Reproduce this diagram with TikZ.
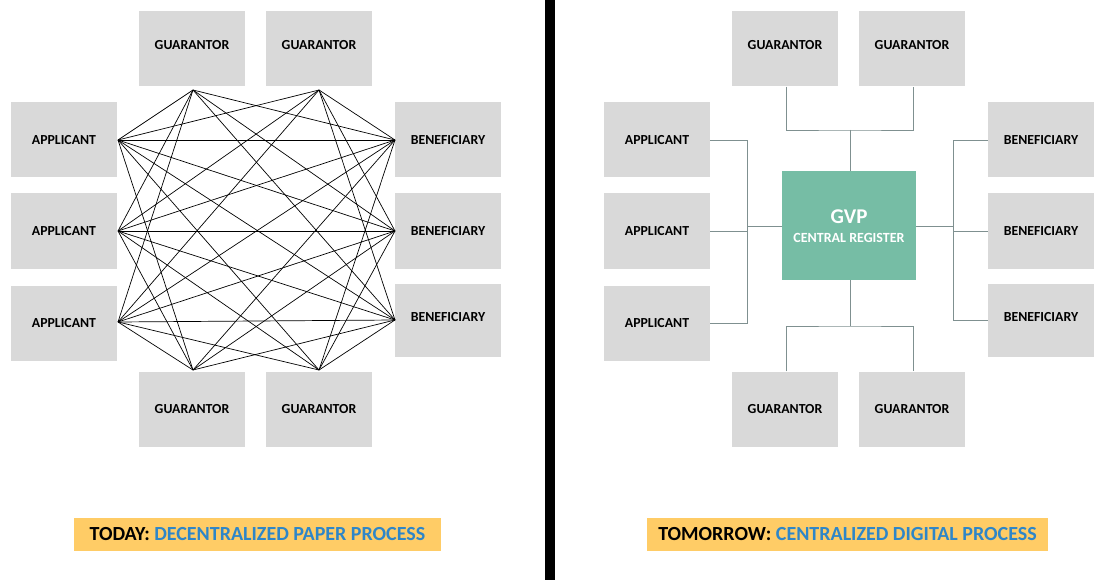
\documentclass[tikz,border=0pt]{standalone}
\usepackage{fontspec}
\setmainfont{Carlito}
\begin{document}
\begin{tikzpicture}[x=1pt,y=-1pt,
  box/.style={fill=boxgray,minimum width=106pt,minimum height=75pt,inner sep=0pt,font=\bfseries\fontsize{13.8}{15}\selectfont},
  mesh/.style={black,line width=0.7pt},
  conn/.style={linegray,line width=0.9pt},
  tag/.style={fill=tagyellow,minimum height=33pt,inner sep=0pt,font=\bfseries\fontsize{20}{22}\selectfont}]
\definecolor{boxgray}{HTML}{D9D9D9}
\definecolor{linegray}{HTML}{7F9090}
\definecolor{gvp}{HTML}{76BDA5}
\definecolor{tagyellow}{HTML}{FFCC66}
\definecolor{tagblue}{HTML}{2E86C8}
\useasboundingbox (0,0) rectangle (1111,580);
\fill[white] (0,0) rectangle (1111,580);
\fill[black] (545,0) rectangle (555,580);
% left
\node[box] (lg1) at (192,49) {\raisebox{8pt}{GUARANTOR}};
\node[box] (lg2) at (319,49) {\raisebox{8pt}{GUARANTOR}};
\node[box] (lg3) at (192,409) {GUARANTOR};
\node[box] (lg4) at (319,409) {GUARANTOR};
\node[box] (la1) at (64,140) {APPLICANT};
\node[box] (la2) at (64,231) {APPLICANT};
\node[box] (la3) at (64,323) {APPLICANT};
\node[box] (lb1) at (448,140) {BENEFICIARY};
\node[box] (lb2) at (448,231) {BENEFICIARY};
\node[box,minimum height=73pt] (lb3) at (448,320) {\raisebox{7pt}{BENEFICIARY}};
\coordinate (g1) at (193,90);
\coordinate (g2) at (319,90);
\coordinate (g3) at (193,370);
\coordinate (g4) at (319,370);
\coordinate (a1) at (118,140);
\coordinate (a2) at (118,231);
\coordinate (a3) at (118,322);
\coordinate (b1) at (395,140);
\coordinate (b2) at (395,231);
\coordinate (b3) at (395,320);
\foreach \p in {a1,a2,a3}{\foreach \q in {b1,b2,b3,g1,g2,g3,g4}{\draw[mesh] (\p)--(\q);}}
\foreach \p in {b1,b2,b3}{\foreach \q in {g1,g2,g3,g4}{\draw[mesh] (\p)--(\q);}}
\node[tag,minimum width=367pt] (lt) at (257.5,534.5) {TODAY: \textcolor{tagblue}{DECENTRALIZED PAPER PROCESS}};
% right
\node[box] (rg1) at (785,49) {\raisebox{8pt}{GUARANTOR}};
\node[box] (rg2) at (912,49) {\raisebox{8pt}{GUARANTOR}};
\node[box] (rg3) at (785,409) {GUARANTOR};
\node[box] (rg4) at (912,409) {GUARANTOR};
\node[box] (ra1) at (657,140) {APPLICANT};
\node[box] (ra2) at (657,231) {APPLICANT};
\node[box] (ra3) at (657,323) {APPLICANT};
\node[box] (rb1) at (1041,140) {BENEFICIARY};
\node[box] (rb2) at (1041,231) {BENEFICIARY};
\node[box,minimum height=73pt] (rb3) at (1041,320) {\raisebox{7pt}{BENEFICIARY}};
\node[fill=gvp,minimum width=134pt,minimum height=109pt,inner sep=0pt] (gvp) at (849,225.5) {};
\node[text=white,font=\bfseries\fontsize{21}{23}\selectfont,inner sep=0pt] (gvpt) at (849,217) {GVP};
\node[text=white,font=\bfseries\fontsize{14}{16}\selectfont,inner sep=0pt] (gvps) at (849,238) {CENTRAL REGISTER};
\coordinate (tj) at (850,130);
\coordinate (bj) at (850,326);
\coordinate (lj) at (747,226);
\coordinate (rj) at (953,226);
\draw[conn] (rg1.south -| 786,0) |- (tj) -| (rg2.south -| 913,0);
\draw[conn] (tj) -- (gvp.north -| tj);
\draw[conn] (rg3.north -| 786,0) |- (bj) -| (rg4.north -| 913,0);
\draw[conn] (bj) -- (gvp.south -| bj);
\draw[conn] (ra1.east) -| (lj |- ra1.east) -- (lj |- ra3.east) -- (ra3.east);
\draw[conn] (ra2.east) -- (lj |- ra2.east);
\draw[conn] (lj) -- (gvp.west |- lj);
\draw[conn] (rb1.west) -- (rj |- rb1.west) -- (rj |- rb3.west) -- (rb3.west);
\draw[conn] (rb2.west) -- (rj |- rb2.west);
\draw[conn] (rj) -- (gvp.east |- rj);
\node[tag,minimum width=401pt] (rt) at (847.5,534.5) {TOMORROW: \textcolor{tagblue}{CENTRALIZED DIGITAL PROCESS}};
\end{tikzpicture}
\end{document}
